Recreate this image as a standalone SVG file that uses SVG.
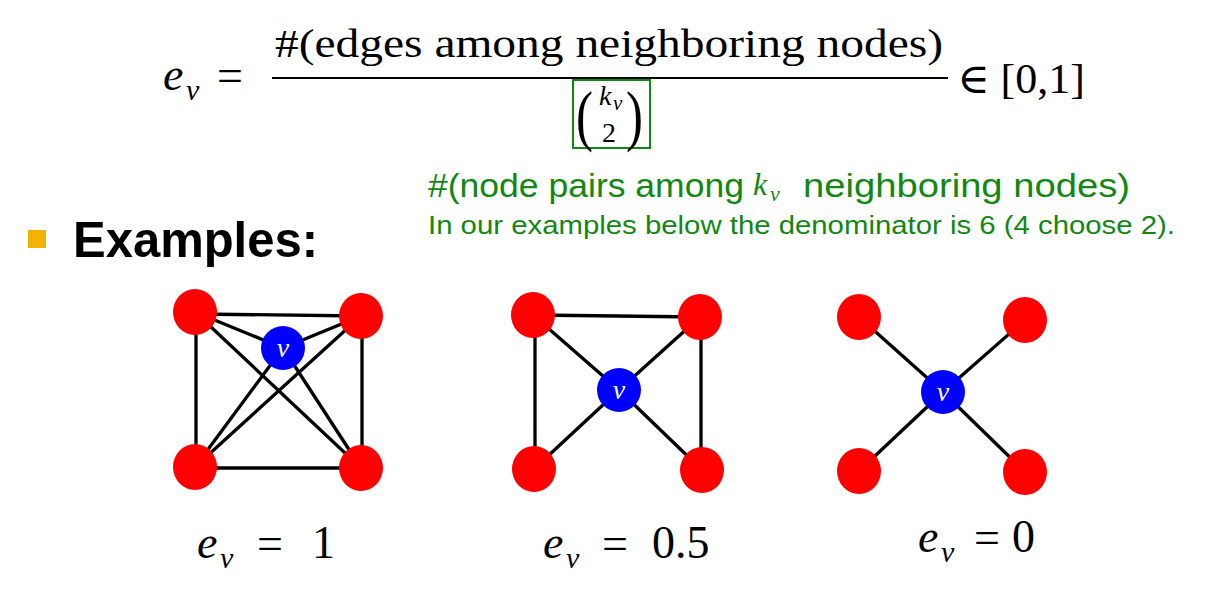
<svg xmlns="http://www.w3.org/2000/svg" width="1208" height="596" viewBox="0 0 1208 596">
<style>
.m{font-family:"Liberation Serif","DejaVu Serif",serif;fill:#000}
.mi{font-family:"Liberation Serif","DejaVu Serif",serif;font-style:italic;fill:#000}
.g{font-family:"Liberation Sans",Arial,sans-serif;fill:#118811}
.gi{font-family:"Liberation Serif",serif;font-style:italic;fill:#118811}
.red{fill:#ff0000}
.blue{fill:#0000ff}
.vl{font-family:"Liberation Serif",serif;font-style:italic;font-size:28px;fill:#fff;text-anchor:middle}
.e{stroke:#000;stroke-width:3.3;fill:none}
</style>
<rect width="1208" height="596" fill="#fff"/>

<g id="formula">
<text class="mi" x="163" y="90" font-size="46">e</text>
<text class="mi" x="186" y="100" font-size="30">v</text>
<text class="m" x="217" y="91" font-size="46">=</text>
<text class="m" x="275" y="57" font-size="40" textLength="668" lengthAdjust="spacingAndGlyphs">#(edges among neighboring nodes)</text>
<line x1="272" y1="78" x2="948" y2="78" stroke="#000" stroke-width="2.2"/>
<rect x="573" y="80" width="77" height="68" fill="none" stroke="#118811" stroke-width="2"/>
<text class="m" font-size="68" transform="translate(576,138) scale(0.75,1)">(</text>
<text class="mi" x="599" y="105" font-size="28">k</text>
<text class="mi" x="613" y="110" font-size="21">v</text>
<text class="m" x="602" y="142" font-size="28">2</text>
<text class="m" font-size="68" transform="translate(626,138) scale(0.75,1)">)</text>
<text class="m" x="957" y="93" font-size="42" textLength="128" lengthAdjust="spacingAndGlyphs">∈ [0,1]</text>
</g>

<g id="annotation">
<text class="g" x="428" y="197" font-size="34" textLength="316" lengthAdjust="spacingAndGlyphs">#(node pairs among</text>
<text class="gi" x="753" y="195" font-size="32">k</text>
<text class="gi" x="770" y="201" font-size="22">v</text>
<text class="g" x="803" y="197" font-size="34" textLength="327" lengthAdjust="spacingAndGlyphs">neighboring nodes)</text>
<text class="g" x="428" y="234" font-size="26" textLength="747" lengthAdjust="spacingAndGlyphs">In our examples  below the denominator  is 6 (4 choose 2).</text>
</g>

<g id="heading">
<rect x="28" y="230" width="18" height="18" fill="#f2b200"/>
<text x="73" y="257" font-family="'Liberation Sans',Arial,sans-serif" font-weight="bold" font-size="50" textLength="245" lengthAdjust="spacingAndGlyphs">Examples:</text>
</g>

<g id="connectors">
<line class="e" x1="195" y1="314" x2="361" y2="316"/>
<line class="e" x1="196" y1="312" x2="196" y2="467"/>
<line class="e" x1="195" y1="468" x2="361" y2="468"/>
<line class="e" x1="362" y1="316" x2="362" y2="468"/>
<line class="e" x1="195" y1="312" x2="283" y2="348"/>
<line class="e" x1="361" y1="316" x2="283" y2="348"/>
<line class="e" x1="195" y1="312" x2="361" y2="468"/>
<line class="e" x1="361" y1="316" x2="195" y2="467"/>
<line class="e" x1="283" y1="348" x2="195" y2="467"/>
<line class="e" x1="283" y1="348" x2="361" y2="468"/>
<line class="e" x1="533" y1="315" x2="700" y2="317"/>
<line class="e" x1="535" y1="315" x2="535" y2="469"/>
<line class="e" x1="701" y1="317" x2="701" y2="470"/>
<line class="e" x1="533" y1="315" x2="619" y2="390"/>
<line class="e" x1="700" y1="317" x2="619" y2="390"/>
<line class="e" x1="534" y1="469" x2="619" y2="390"/>
<line class="e" x1="702" y1="470" x2="619" y2="390"/>
<line class="e" x1="859" y1="317" x2="943" y2="392"/>
<line class="e" x1="1025" y1="320" x2="943" y2="392"/>
<line class="e" x1="859" y1="471" x2="943" y2="392"/>
<line class="e" x1="1025" y1="472" x2="943" y2="392"/>
</g>

<g id="g1-tl"><ellipse class="red" cx="195" cy="312" rx="22" ry="23"/></g>
<g id="g1-tr"><ellipse class="red" cx="361" cy="316" rx="22" ry="23"/></g>
<g id="g1-bl"><ellipse class="red" cx="195" cy="467" rx="22" ry="23"/></g>
<g id="g1-br"><ellipse class="red" cx="361" cy="468" rx="22" ry="23"/></g>
<g id="g1-v"><circle class="blue" cx="283" cy="348" r="22"/><text class="vl" x="283" y="357">v</text></g>

<g id="g2-tl"><ellipse class="red" cx="533" cy="315" rx="22" ry="23"/></g>
<g id="g2-tr"><ellipse class="red" cx="700" cy="317" rx="22" ry="23"/></g>
<g id="g2-bl"><ellipse class="red" cx="534" cy="469" rx="22" ry="23"/></g>
<g id="g2-br"><ellipse class="red" cx="702" cy="470" rx="22" ry="23"/></g>
<g id="g2-v"><circle class="blue" cx="619" cy="390" r="22"/><text class="vl" x="619" y="399">v</text></g>

<g id="g3-tl"><ellipse class="red" cx="859" cy="317" rx="22" ry="23"/></g>
<g id="g3-tr"><ellipse class="red" cx="1025" cy="320" rx="22" ry="23"/></g>
<g id="g3-bl"><ellipse class="red" cx="859" cy="471" rx="22" ry="23"/></g>
<g id="g3-br"><ellipse class="red" cx="1025" cy="472" rx="22" ry="23"/></g>
<g id="g3-v"><circle class="blue" cx="943" cy="392" r="22"/><text class="vl" x="943" y="401">v</text></g>

<g id="labels">
<text class="mi" x="197" y="558" font-size="46">e</text>
<text class="mi" x="220" y="568" font-size="30">v</text>
<text class="m" x="257" y="559" font-size="46">=</text>
<text class="m" x="312" y="558" font-size="46">1</text>

<text class="mi" x="543" y="558" font-size="46">e</text>
<text class="mi" x="566" y="568" font-size="30">v</text>
<text class="m" x="602" y="559" font-size="46">=</text>
<text class="m" x="652" y="558" font-size="46">0.5</text>

<text class="mi" x="918" y="552" font-size="46">e</text>
<text class="mi" x="941" y="562" font-size="30">v</text>
<text class="m" x="974" y="553" font-size="46">=</text>
<text class="m" x="1012" y="552" font-size="46">0</text>
</g>
</svg>
